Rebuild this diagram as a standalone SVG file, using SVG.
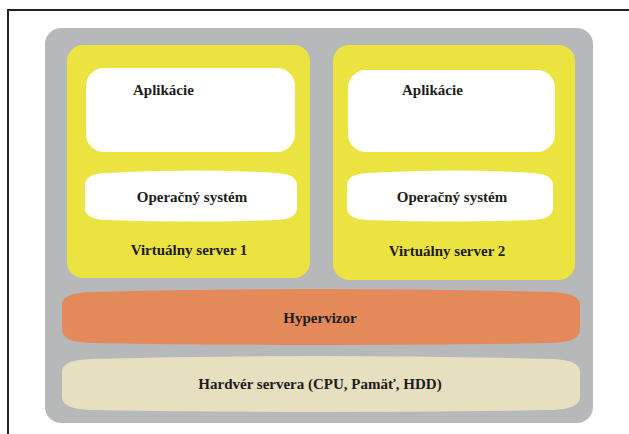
<svg xmlns="http://www.w3.org/2000/svg" width="629" height="434" viewBox="0 0 629 434">
<style>
.t{font-family:'Liberation Serif','Times New Roman',serif;font-weight:700;font-size:15px;fill:#1c1c1c}
.c{text-anchor:middle}
.vs{fill:#ebe340}
.wh{fill:#ffffff}
</style>
<rect x="0" y="0" width="629" height="434" fill="#ffffff"/>
<path d="M8,436 L8,10 L632,10" fill="none" stroke="#222222" stroke-width="2"/>
<g id="host">
<rect x="45" y="28" width="548" height="395" rx="16" ry="16" fill="#b6b8ba"/>
</g>
<g id="vs1">
<rect class="vs" x="67" y="45" width="243" height="233" rx="16" ry="16"/>
<text class="t c" x="189" y="255">Virtuálny server 1</text>
</g>
<g id="app1">
<rect class="wh" x="86" y="68" width="209" height="84" rx="18" ry="18"/>
<text class="t" x="133" y="95">Aplikácie</text>
</g>
<g id="os1">
<path class="wh" d="M85,185 Q85,174 105,173 Q191,168 277,173 Q297,174 297,185 L297,208 Q297,219 277,220 Q191,223 105,220 Q85,219 85,208 Z"/>
<text class="t c" x="192" y="202">Operačný systém</text>
</g>
<g id="vs2">
<rect class="vs" x="333" y="45" width="242" height="235" rx="16" ry="16"/>
<text class="t c" x="447" y="256">Virtuálny server 2</text>
</g>
<g id="app2">
<rect class="wh" x="348" y="70" width="207" height="82" rx="18" ry="18"/>
<text class="t" x="402" y="95">Aplikácie</text>
</g>
<g id="os2">
<path class="wh" d="M347,185 Q347,174 367,173 Q450,168 533,173 Q553,174 553,185 L553,208 Q553,219 533,220 Q450,223 367,220 Q347,219 347,208 Z"/>
<text class="t c" x="452" y="202">Operačný systém</text>
</g>
<g id="hypervisor">
<path d="M62,305 Q62,293 90,292 Q320,286 552,292 Q580,293 580,305 L580,330 Q580,342 552,343 Q320,347 90,343 Q62,342 62,330 Z" fill="#e4895a"/>
<text class="t c" x="320" y="323">Hypervizor</text>
</g>
<g id="hardware">
<path d="M62,372 Q62,360 90,359 Q320,353 552,359 Q580,360 580,372 L580,397 Q580,409 552,410 Q320,414 90,410 Q62,409 62,397 Z" fill="#e6dfc0"/>
<text class="t c" x="320" y="389">Hardvér servera (CPU, Pamäť, HDD)</text>
</g>
<g id="connectors"></g>
</svg>
